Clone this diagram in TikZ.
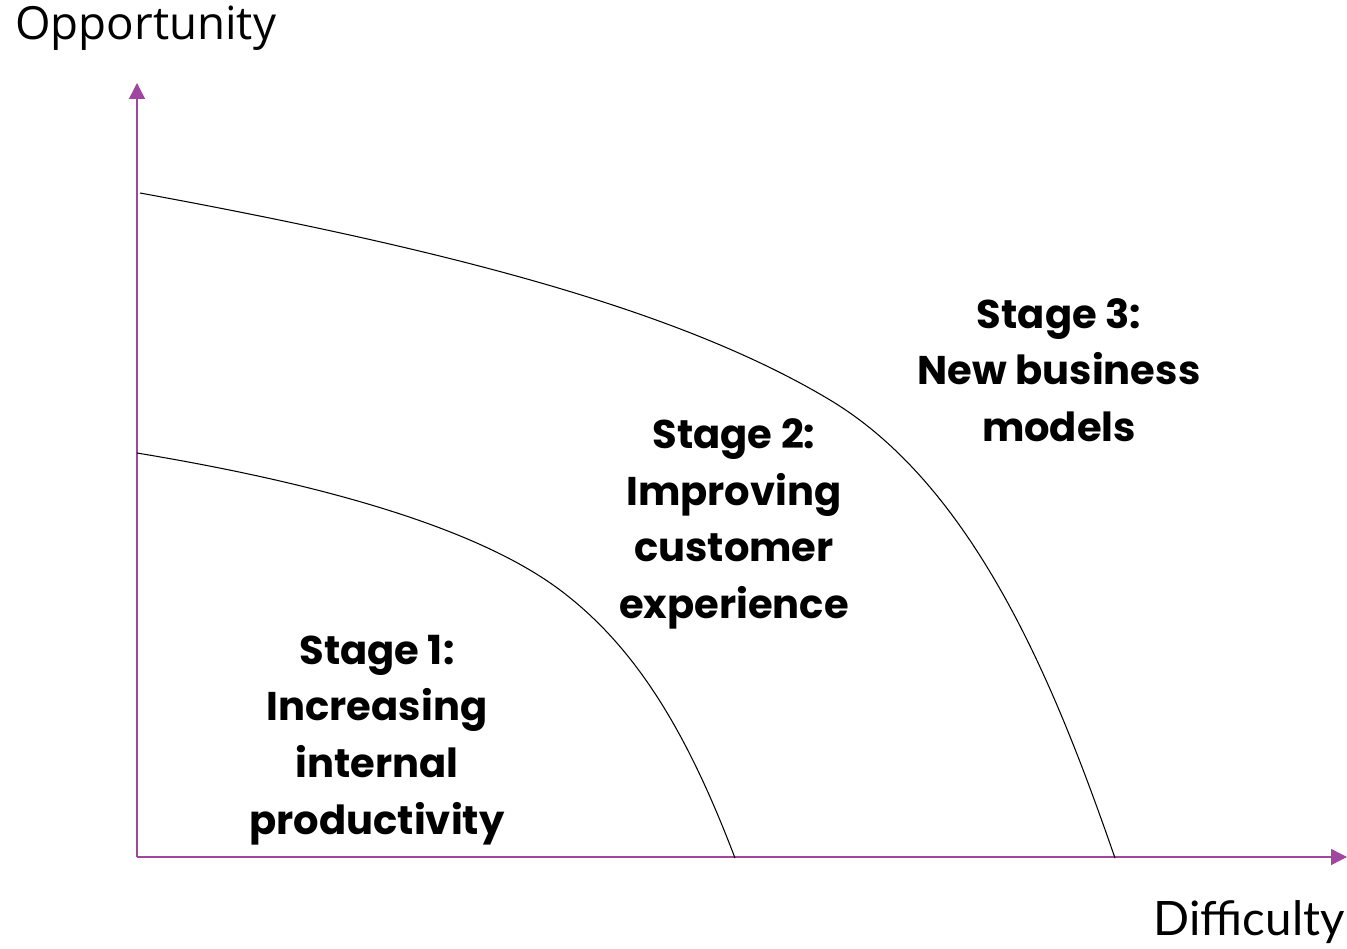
\documentclass[tikz,border=0pt]{standalone}
\usepackage{fontspec}
\setmainfont{Lato}
\newfontfamily\axisfont{Open Sans}
\newfontfamily\stagefont{Poppins}
\usetikzlibrary{arrows.meta}
\definecolor{axispurple}{RGB}{160,70,160}
\tikzset{
  axis/.style={thick,axispurple,-{Triangle[length=3.2mm,width=3.2mm]}},
  frontier/.style={line width=0.6pt,black},
  lbl/.style={font=\stagefont\fontsize{22.8}{32.3}\selectfont\bfseries,align=center},
  axlbl/.style={font=\fontsize{27}{32}\selectfont,inner sep=0pt},
}

\begin{document}
\begin{tikzpicture}[x=0.02cm,y=-0.02cm]
    \useasboundingbox (0,0) rectangle (1347,949);
    % --- axes ---
    \coordinate (O) at (137,857);
    \coordinate (ytop) at (137,83);
    \coordinate (xend) at (1347,857);
    \draw[axis] (O) -- (ytop);
    \draw[axis] (O) -- (xend);
    \node[axlbl,anchor=west] (opp) at (15,28) {\axisfont\fontsize{26}{30}\selectfont Opportunity};
    \node[axlbl,anchor=east] (diff) at (1345,922) {Difficulty};
    % --- inner frontier ---
    \coordinate (a0) at (137,453);
    \coordinate (a1) at (560,590);
    \coordinate (a2) at (735,858);
    \draw[frontier] (a0) .. controls (330,485) and (480,530) .. (a1)
                         .. controls (640,650) and (690,740) .. (a2);
    % --- outer frontier ---
    \coordinate (b0) at (140,193);
    \coordinate (b1) at (830,400);
    \coordinate (b2) at (1115,858);
    \draw[frontier] (b0) .. controls (450,250) and (680,310) .. (b1)
                         .. controls (980,490) and (1060,700) .. (b2);
    % --- stage labels ---
    \node[lbl] (s1) at (377,740) {Stage 1:\\Increasing\\internal\\productivity};
    \node[lbl] (s2) at (734,524) {Stage 2:\\Improving\\customer\\experience};
    \node[lbl] (s3) at (1059,370) {Stage 3:\\New business\\models};
\end{tikzpicture}
\end{document}
